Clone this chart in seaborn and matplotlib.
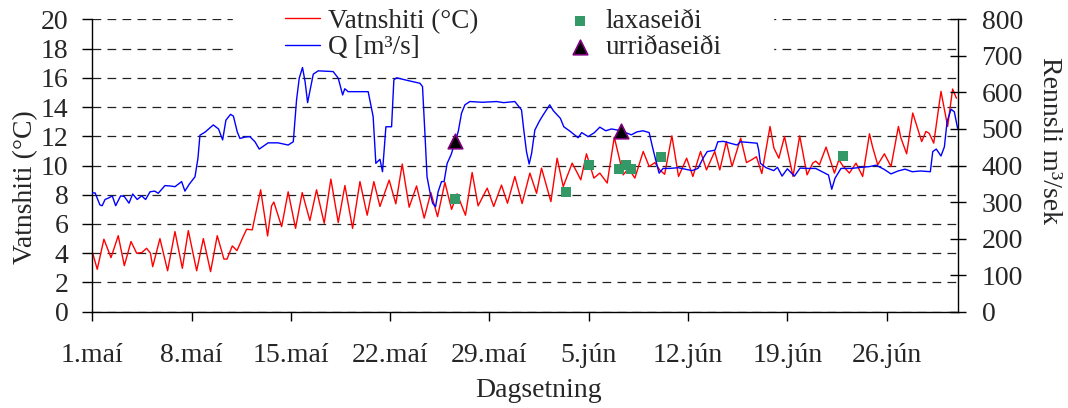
import matplotlib.pyplot as plt
import pandas as pd
import seaborn as sns

# dagar frá 1. maí, lesið af myndinni
temp_dagur = [0.0, 0.35, 0.82, 1.32, 1.83, 2.26, 2.73, 3.13, 3.5, 3.83, 4.1, 4.26, 4.77, 5.31,
              5.83, 6.35, 6.77, 7.36, 7.83, 8.34, 8.81, 9.28, 9.5, 9.87, 10.2, 10.64, 10.88,
              11.28, 11.47, 11.87, 12.36, 12.64, 12.8, 13.35, 13.81, 14.33, 14.8, 15.34, 15.81,
              16.35, 16.82, 17.34, 17.81, 18.35, 18.87, 19.38, 19.85, 20.28, 20.93, 21.4, 21.85,
              22.34, 22.86, 23.4, 23.87, 24.34, 24.86, 25.33, 25.72, 26.31, 26.78, 27.2, 27.84,
              28.3, 28.85, 29.27, 29.79, 30.3, 30.85, 31.32, 31.67, 32.33, 32.77, 33.2, 33.83,
              34.14, 34.44, 34.84, 35.36, 35.78, 36.3, 36.8, 37.43, 37.8, 38.25, 38.84, 39.26,
              39.66, 40.0, 40.35, 40.86, 41.33, 41.9, 42.34, 42.88, 43.3, 43.88, 44.24, 44.7,
              45.1, 45.71, 46.12, 46.5, 46.82, 47.2, 47.78, 48.05, 48.4, 48.8, 49.4, 49.87,
              50.39, 50.79, 51.0, 51.26, 51.73, 52.32, 52.63, 52.9, 53.37, 53.84, 54.31, 54.79,
              55.0, 55.37, 55.84, 56.31, 56.83, 57.0, 57.41, 57.84, 58.0, 58.47, 58.77, 59.0,
              59.32, 59.83, 60.3, 60.65, 60.92]
temp_gildi = [4.1, 2.9, 4.96, 3.7, 5.2, 3.15, 4.8, 4.0, 4.05, 4.34, 4.0, 3.08, 5.0, 2.8,
              5.48, 2.97, 5.55, 2.8, 5.0, 2.74, 5.2, 3.6, 3.6, 4.5, 4.18, 5.14, 5.64,
              5.6, 6.5, 8.34, 5.18, 7.24, 7.5, 5.82, 8.2, 5.7, 8.15, 6.23, 8.34,
              6.05, 9.07, 6.1, 8.63, 5.7, 8.9, 6.6, 8.9, 7.2, 9.0, 7.38, 10.1,
              7.15, 8.6, 6.4, 8.15, 6.5, 8.84, 7.0, 8.06, 6.6, 9.52, 7.24, 8.45,
              7.2, 8.66, 7.42, 9.25, 7.4, 9.48, 8.1, 9.82, 7.53, 10.5, 8.56, 10.16,
              9.59, 9.02, 10.8, 9.14, 9.48, 8.8, 11.94, 9.36, 9.8, 9.14, 10.96, 9.93,
              10.2, 9.7, 9.4, 12.03, 9.25, 10.5, 9.25, 10.96, 9.7, 10.96, 9.7, 11.64,
              9.93, 11.87, 10.2, 10.4, 10.6, 9.45, 12.67, 11.2, 10.5, 11.98, 9.25, 12.03,
              9.36, 10.16, 10.3, 10.05, 11.26, 9.48, 10.39, 10.0, 9.48, 10.16, 9.25, 12.17,
              11.3, 10.05, 10.8, 9.93, 12.67, 11.9, 10.8, 13.59, 13.1, 11.64, 12.33, 12.2,
              11.53, 15.07, 12.67, 15.23, 14.6]

q_dagur = [0.0, 0.2, 0.54, 0.7, 0.9, 1.2, 1.41, 1.65, 2.0, 2.26, 2.59, 2.85, 3.17, 3.48, 3.76,
           4.07, 4.4, 4.65, 5.12, 5.5, 5.83, 6.3, 6.53, 6.84, 7.24, 7.45, 7.59, 7.94, 8.53,
           8.9, 9.19, 9.42, 9.75, 9.95, 10.22, 10.41, 10.8, 11.11, 11.47, 11.77, 12.4, 13.1,
           13.81, 14.17, 14.4, 14.59, 14.82, 15.0, 15.18, 15.58, 15.93, 16.98, 17.34, 17.65,
           17.8, 18.04, 19.45, 19.8, 19.99, 20.28, 20.46, 20.7, 21.1, 21.26, 21.45, 22.3,
           23.1, 23.28, 23.45, 23.6, 23.8, 23.99, 24.2, 24.38, 24.62, 24.8, 25.02, 25.3, 25.6,
           25.8, 26.03, 26.27, 26.62, 27.5, 28.5, 29.0, 29.79, 30.26, 30.42, 30.61, 30.8,
           30.97, 31.2, 31.5, 31.78, 32.25, 32.5, 33.0, 33.24, 33.67, 34.25, 34.5, 34.96,
           35.4, 35.78, 36.2, 36.6, 37.0, 37.3, 37.6, 38.0, 38.4, 38.83, 39.26, 39.49, 39.72,
           39.96, 40.24, 40.7, 41.3, 42.28, 42.7, 43.06, 43.35, 43.9, 44.1, 44.5, 45.45,
           45.7, 46.87, 46.98, 47.1, 47.5, 48.04, 48.3, 48.63, 49.0, 49.5, 49.9, 50.44, 51.0,
           51.9, 52.13, 52.36, 52.78, 53.5, 54.2, 54.79, 55.25, 55.8, 56.31, 56.8, 57.3,
           57.8, 58.4, 59.08, 59.25, 59.5, 59.83, 60.07, 60.26, 60.54, 60.77, 61.0]
q_gildi = [325, 325, 292, 290, 307, 312, 317, 290, 317, 315, 297, 322, 307, 317, 307,
           328, 330, 324, 345, 344, 342, 356, 330, 349, 369, 420, 483, 491, 511,
           500, 470, 524, 540, 535, 492, 474, 478, 479, 465, 445, 462, 462,
           456, 465, 579, 639, 668, 630, 572, 650, 659, 657, 639, 593,
           610, 602, 602, 534, 406, 417, 383, 506, 506, 634, 640, 632,
           625, 616, 488, 369, 328, 297, 287, 328, 356, 356, 406, 430, 468,
           493, 543, 566, 575, 573, 575, 572, 575, 552, 497, 438, 404,
           433, 497, 520, 538, 566, 550, 529, 506, 494, 476, 490, 479,
           490, 505, 495, 500, 497, 495, 490, 484, 492, 495, 490, 451, 415,
           379, 392, 392, 394, 386, 392, 420, 438, 442, 465, 466, 456,
           465, 461, 442, 406, 394, 386, 395, 371, 391, 371, 393, 392, 392,
           374, 335, 365, 392, 392, 395, 397, 401, 390, 377, 385, 390,
           383, 385, 383, 438, 445, 426, 451, 520, 554, 547, 502]

lax_dagur = [25.56, 33.4, 35.0, 37.1, 37.66, 38.0, 40.08, 52.95]
lax_hiti = [7.72, 8.22, 10.05, 9.75, 10.05, 9.75, 10.55, 10.66]
urr_dagur = [25.6, 37.3]
urr_rennsli = [468, 495]

dag_stadir = [0, 7, 14, 21, 28, 35, 42, 49, 56]
dag_merki = ["1.maí", "8.maí", "15.maí", "22.maí", "29.maí", "5.jún", "12.jún", "19.jún", "26.jún"]

sns.set_style("ticks")
plt.rcParams['font.family'] = ['Liberation Serif', 'DejaVu Serif']

fig = plt.figure(figsize=(10.68, 4.08), dpi=100)
ax = fig.add_axes([0.0864, 0.236, 0.8102, 0.7167])
ax2 = ax.twinx()

df_t = pd.DataFrame({"Dagur": temp_dagur, "Hiti": temp_gildi})
df_q = pd.DataFrame({"Dagur": q_dagur, "Q": q_gildi})
df_lax = pd.DataFrame({"Dagur": lax_dagur, "Hiti": lax_hiti})
df_urr = pd.DataFrame({"Dagur": urr_dagur, "Q": urr_rennsli})

sns.lineplot(data=df_t, x="Dagur", y="Hiti", ax=ax, color="#ff0000", lw=1,
             estimator=None, sort=False, label="Vatnshiti (°C)", legend=False)
sns.scatterplot(data=df_lax, x="Dagur", y="Hiti", ax=ax, marker="s", s=60,
                color="#339966", linewidth=0, label="laxaseiði", legend=False, zorder=5)
sns.lineplot(data=df_q, x="Dagur", y="Q", ax=ax2, color="#0000ff", lw=1,
             estimator=None, sort=False, label="Q [m³/s]", legend=False)
sns.scatterplot(data=df_urr, x="Dagur", y="Q", ax=ax2, marker="^", s=110,
                color="black", edgecolor="#800080", linewidth=1.2,
                label="urriðaseiði", legend=False, zorder=5)

ax.set_xlim(0, 61)
ax.set_ylim(0, 20)
ax2.set_ylim(0, 800)
ax.set_xticks(dag_stadir)
ax.set_xticklabels(dag_merki)
ax.set_yticks(range(0, 21, 2))
ax2.set_yticks(range(0, 801, 100))

ax.yaxis.grid(True, linestyle=(0, (7, 5)), color="#222222", lw=0.9)
ax.xaxis.grid(False)

for s in ["top", "right"]:
    ax.spines[s].set_visible(False)
for s in ["top", "left", "bottom"]:
    ax2.spines[s].set_visible(False)
for a in [ax, ax2]:
    for s in a.spines.values():
        s.set_color("black")
        s.set_linewidth(1)

ax.tick_params(axis="x", direction="out", length=6.5, width=1, pad=16, labelsize=20, color="black")
ax.tick_params(axis="y", direction="out", length=7, width=1, pad=10, labelsize=20, color="black")
ax2.tick_params(axis="y", direction="inout", length=11.5, width=1, pad=11.5, labelsize=20, color="black")

ax.set_xlabel("Dagsetning", fontsize=20)
ax.set_ylabel("Vatnshiti (°C)", fontsize=20)
ax2.set_ylabel("Rennsli m³/sek", fontsize=20, rotation=270, va="bottom")
ax.xaxis.set_label_coords(0.516, -0.225)
ax.yaxis.set_label_coords(-0.063, 0.426)
ax2.yaxis.set_label_coords(1.092, 0.587)

h1, l1 = ax.get_legend_handles_labels()
h2, l2 = ax2.get_legend_handles_labels()
handles = [h1[0], h2[0], h1[1], h2[1]]
labels = [l1[0], l2[0], l1[1], l2[1]]
leg = ax2.legend(handles, labels, ncol=2, loc="upper left", bbox_to_anchor=(0.264, 0.985),
                 bbox_transform=fig.transFigure, fontsize=19.5, frameon=True, fancybox=False,
                 framealpha=1, facecolor="white", edgecolor="white", handlelength=1.3,
                 handletextpad=0.3, columnspacing=3.1, labelspacing=0.05, borderpad=0.1,
                 borderaxespad=0, scatterpoints=1)
leg.get_frame().set_boxstyle("square", pad=1.8)
leg.get_frame().set_mutation_aspect(0.05)
# línurnar ofan á hvíta reitinn, en netlínurnar undir
leg.set_zorder(1.5)

plt.savefig("out.png", dpi=100)
